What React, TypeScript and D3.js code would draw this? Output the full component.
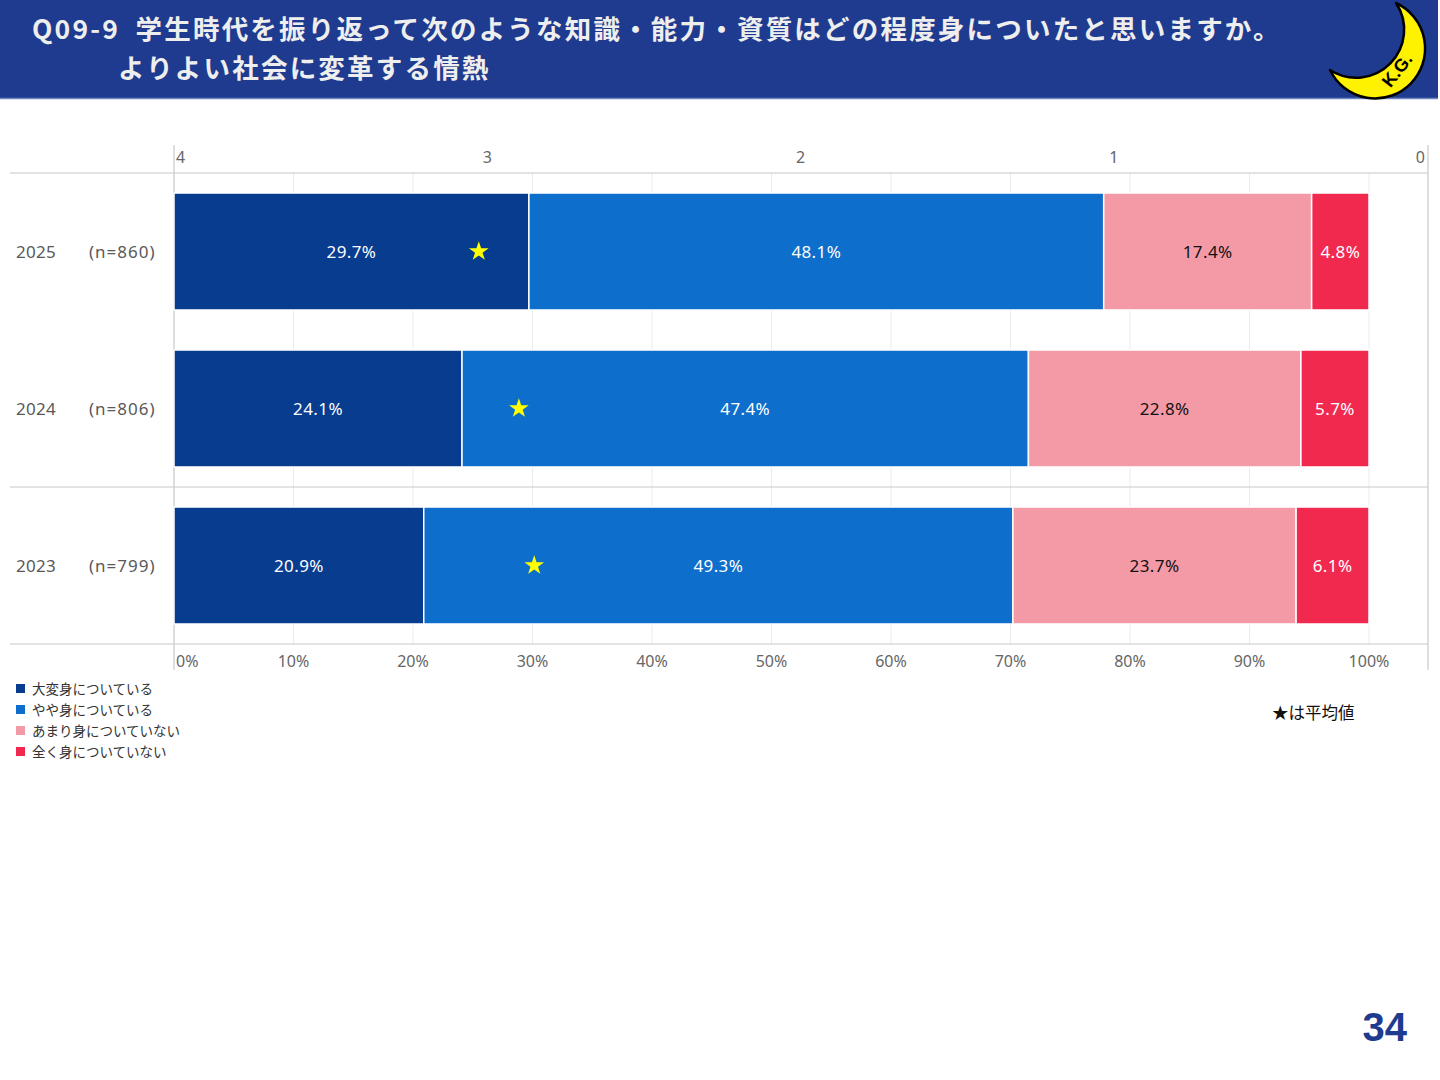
import React, { useEffect, useRef } from 'react';
import * as d3 from 'd3';

const years = ['2025', '2024', '2023'];
const sampleSizes = ['(n=860)', '(n=806)', '(n=799)'];
const answers = ['大変身についている', 'やや身についている', 'あまり身についていない', '全く身についていない'];
const answerScores = [4, 3, 2, 1];
const greatly = [29.7, 24.1, 20.9];
const somewhat = [48.1, 47.4, 49.3];
const notMuch = [17.4, 22.8, 23.7];
const notAtAll = [4.8, 5.7, 6.1];
const percentTicks = [0, 10, 20, 30, 40, 50, 60, 70, 80, 90, 100];
const scoreTicks = [4, 3, 2, 1, 0];

const colors = ['#073C8E', '#0E6ECC', '#F49AA7', '#F2294F'];
const labelColors = ['#ffffff', '#ffffff', '#111111', '#ffffff'];
const latin = '"Noto Sans", "Noto Sans CJK JP", sans-serif';
const jp = '"Noto Sans CJK JP", sans-serif';

const W = 1440;
const H = 1080;

const App = () => {
    const svgRef = useRef<SVGSVGElement | null>(null);

    useEffect(() => {
        if (!svgRef.current) return;
        const svg = d3.select(svgRef.current);
        svg.selectAll('*').remove();

        // header band
        svg.append('rect').attr('x', 0).attr('y', 0).attr('width', 1438).attr('height', 98).attr('fill', '#1F3B8F');
        svg.append('line').attr('x1', 0).attr('x2', 1438).attr('y1', 98.5).attr('y2', 98.5).attr('stroke', '#6C86BF').attr('stroke-width', 1.5);
        const title = svg.append('text').attr('fill', '#EEEEEE').attr('font-family', jp).attr('font-weight', 700)
            .attr('font-size', 26.5).attr('letter-spacing', 2.2);
        title.append('tspan').attr('x', 32).attr('y', 39)
            .text('Q09-9\u2002学生時代を振り返って次のような知識・能力・資質はどの程度身についたと思いますか。');
        title.append('tspan').attr('x', 118).attr('y', 77.5).text('よりよい社会に変革する情熱');

        // moon logo
        svg.append('path')
            .attr('d', 'M1396,3 A50,50 0 1 1 1330,70 A48,48 0 0 0 1396,3 Z')
            .attr('fill', '#FFF200').attr('stroke', '#000').attr('stroke-width', 2.5).attr('stroke-linejoin', 'round');
        svg.append('text').attr('transform', 'translate(1402,74) rotate(-52)').attr('text-anchor', 'middle')
            .attr('font-family', '"Liberation Sans", sans-serif').attr('font-weight', 700).attr('font-size', 18).attr('fill', '#000').text('K.G.');

        // scales
        const x = d3.scaleLinear().domain([0, 100]).range([174, 1369]);
        const xScore = d3.scaleLinear().domain([4, 0]).range([174, 1427]);
        const y = d3.scaleBand().domain(years).range([173, 644]).paddingInner(0.255).paddingOuter(0.1275);

        const rows = years.map((yr, i) => ({ year: yr, n: sampleSizes[i], values: [greatly[i], somewhat[i], notMuch[i], notAtAll[i]] }));

        // gridlines
        svg.append('g').selectAll('line').data(percentTicks.slice(1)).enter().append('line')
            .attr('x1', (d) => x(d)).attr('x2', (d) => x(d)).attr('y1', 173).attr('y2', 644)
            .attr('stroke', '#EBEBEB').attr('stroke-width', 1);

        // frame lines
        const frame = svg.append('g').attr('stroke', '#C8C8C8').attr('stroke-width', 1.2);
        [173, 487, 644].forEach((yy) => frame.append('line').attr('x1', 10).attr('x2', 1428).attr('y1', yy).attr('y2', yy));
        frame.append('line').attr('x1', 174).attr('x2', 174).attr('y1', 145).attr('y2', 670);
        frame.append('line').attr('x1', 1428).attr('x2', 1428).attr('y1', 145).attr('y2', 670);

        // bars
        rows.forEach((row) => {
            const stack = d3.cumsum(row.values);
            const g = svg.append('g');
            const segs = row.values.map((v, j) => ({ v, j, x0: j === 0 ? 0 : stack[j - 1], x1: stack[j] }));
            g.selectAll('rect').data(segs).enter().append('rect')
                .attr('x', (d) => x(d.x0)).attr('width', (d) => x(d.x1) - x(d.x0))
                .attr('y', y(row.year)!).attr('height', y.bandwidth())
                .attr('fill', (d) => colors[d.j]).attr('stroke', '#fff').attr('stroke-width', 1.5);
            g.selectAll('text.val').data(segs).enter().append('text').attr('class', 'val')
                .attr('x', (d) => (x(d.x0) + x(d.x1)) / 2).attr('y', y(row.year)! + y.bandwidth() / 2)
                .attr('dy', '0.36em').attr('text-anchor', 'middle').attr('font-family', latin).attr('font-size', 17)
                .attr('letter-spacing', 0.4).attr('fill', (d) => labelColors[d.j]).text((d) => d.v.toFixed(1) + '%');

            // average star
            const mean = d3.sum(row.values.map((v, j) => v * answerScores[j])) / d3.sum(row.values);
            g.append('path').attr('d', d3.symbol().type(d3.symbolStar).size(120)()!)
                .attr('transform', `translate(${xScore(mean)},${y(row.year)! + y.bandwidth() / 2})`).attr('fill', '#FFFF00');

            // category labels
            const cy = y(row.year)! + y.bandwidth() / 2;
            g.append('text').attr('x', 16).attr('y', cy).attr('dy', '0.36em').attr('font-family', latin).attr('font-size', 17)
                .attr('letter-spacing', 0.3).attr('fill', '#595959').text(row.year);
            g.append('text').attr('x', 89).attr('y', cy).attr('dy', '0.36em').attr('font-family', latin).attr('font-size', 17)
                .attr('letter-spacing', 1).attr('fill', '#595959').text(row.n);
        });

        // top score axis
        svg.append('g').selectAll('text').data(scoreTicks).enter().append('text')
            .attr('x', (d, i) => (i === 0 ? xScore(d) + 2 : i === scoreTicks.length - 1 ? xScore(d) - 2 : xScore(d)))
            .attr('y', 163).attr('font-family', latin).attr('font-size', 16).attr('fill', '#666')
            .attr('text-anchor', (d, i) => (i === 0 ? 'start' : i === scoreTicks.length - 1 ? 'end' : 'middle'))
            .text((d) => String(d));

        // bottom percent axis
        svg.append('g').selectAll('text').data(percentTicks).enter().append('text')
            .attr('x', (d, i) => (i === 0 ? x(d) + 2 : x(d))).attr('y', 667)
            .attr('font-family', latin).attr('font-size', 16).attr('fill', '#666')
            .attr('text-anchor', (d, i) => (i === 0 ? 'start' : 'middle'))
            .text((d) => d + '%');

        // legend
        const legend = svg.append('g');
        answers.forEach((a, i) => {
            const ly = 689 + i * 21;
            legend.append('rect').attr('x', 16).attr('y', ly - 5).attr('width', 9).attr('height', 9).attr('fill', colors[i]);
            legend.append('text').attr('x', 32).attr('y', ly).attr('dy', '0.36em').attr('font-family', jp).attr('font-size', 13.5)
                .attr('fill', '#333').text(a);
        });

        svg.append('text').attr('x', 1272).attr('y', 713).attr('dy', '0.36em').attr('font-family', jp).attr('font-size', 16.5)
            .attr('fill', '#111').text('★は平均値');

        svg.append('text').attr('x', 1407).attr('y', 1041).attr('text-anchor', 'end').attr('font-family', '"Liberation Sans", sans-serif')
            .attr('font-weight', 700).attr('font-size', 40).attr('fill', '#1F3B8F').text('34');
    }, []);

    return <svg ref={svgRef} width={W} height={H} style={{ position: 'absolute', left: 0, top: 0, background: '#fff' }}></svg>;
};

export default App;
